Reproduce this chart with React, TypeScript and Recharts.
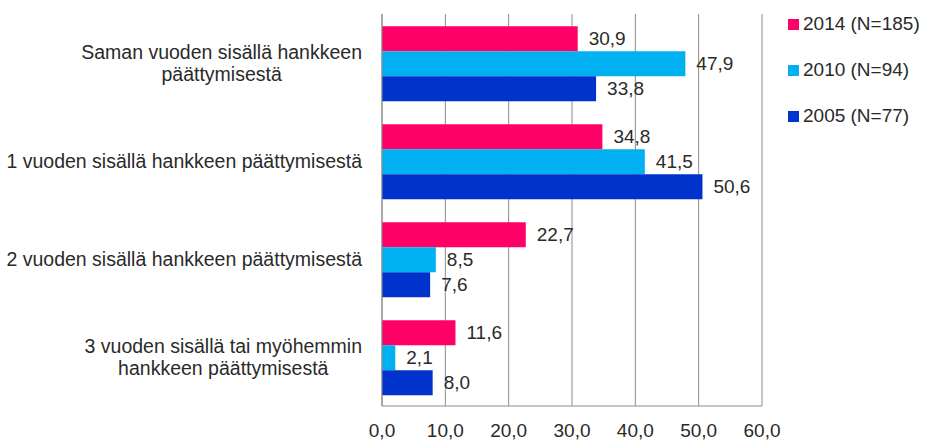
import React, { useLayoutEffect, useRef, useState } from "react";
import { BarChart, Bar, XAxis, YAxis, CartesianGrid, LabelList } from "recharts";

const categories = [
  "Saman vuoden sisällä hankkeen\npäättymisestä",
  "1 vuoden sisällä hankkeen päättymisestä",
  "2 vuoden sisällä hankkeen päättymisestä",
  "3 vuoden sisällä tai myöhemmin\nhankkeen päättymisestä",
];
const values2014 = [30.9, 34.8, 22.7, 11.6];
const values2010 = [47.9, 41.5, 8.5, 2.1];
const values2005 = [33.8, 50.6, 7.6, 8.0];
const xTicks = [0, 10, 20, 30, 40, 50, 60];

const series = [
  { key: "v2014", name: "2014 (N=185)", color: "#FF0066" },
  { key: "v2010", name: "2010 (N=94)", color: "#00B0F0" },
  { key: "v2005", name: "2005 (N=77)", color: "#0033CC" },
];

const data = categories.map((label, i) => ({
  label,
  v2014: values2014[i],
  v2010: values2010[i],
  v2005: values2005[i],
}));

const FONT = "'Liberation Sans', Arial, Helvetica, sans-serif";
const TEXT = "#2a2a2a";
const fmt = (v: any) => Number(v).toFixed(1).replace(".", ",");

function CategoryTick(props: any) {
  const { x, y, payload } = props;
  const lines = String(payload?.value ?? "").split("\n");
  const refs = useRef<any[]>([]);
  const [w, setW] = useState(0);
  useLayoutEffect(() => {
    let m = 0;
    refs.current.forEach((t) => {
      if (t) m = Math.max(m, t.getComputedTextLength());
    });
    if (Math.abs(m - w) > 0.5) setW(m);
  });
  const lh = 21.5;
  const startY = y - ((lines.length - 1) * lh) / 2;
  return (
    <g>
      {lines.map((l, i) => (
        <text
          key={i}
          ref={(el) => {
            refs.current[i] = el;
          }}
          x={x - w / 2}
          y={startY + i * lh}
          dy="0.355em"
          textAnchor="middle"
          fontFamily={FONT}
          fontSize={19.5}
          fill={TEXT}
        >
          {l}
        </text>
      ))}
    </g>
  );
}

function LegendBox() {
  return (
    <div
      style={{
        position: "absolute",
        left: 788,
        top: 13,
        fontFamily: FONT,
        fontSize: 19,
        color: TEXT,
      }}
    >
      {series.map((s) => (
        <div
          key={s.key}
          style={{ display: "flex", alignItems: "center", height: 22, marginBottom: 24, whiteSpace: "nowrap" }}
        >
          <span style={{ display: "inline-block", width: 11, height: 11, background: s.color, marginRight: 4 }} />
          <span>{s.name}</span>
        </div>
      ))}
    </div>
  );
}

export default function App() {
  return (
    <div style={{ position: "absolute", left: 0, top: 0, width: 925, height: 440, background: "#fff" }}>
      <BarChart
        width={925}
        height={440}
        data={data}
        layout="vertical"
        margin={{ top: 14, right: 163, bottom: 0, left: 0 }}
        barCategoryGap="12.5%"
        barGap={0}
      >
        <CartesianGrid horizontal={false} vertical={true} stroke="#8c8c8c" strokeWidth={1} />
        <XAxis
          type="number"
          domain={[0, 60]}
          ticks={xTicks}
          tickFormatter={fmt}
          axisLine={{ stroke: "#8c8c8c" }}
          tickLine={false}
          tickSize={0}
          tickMargin={18}
          height={34}
          interval={0}
          tick={{ fontFamily: FONT, fontSize: 19, fill: TEXT }}
        />
        <XAxis
          xAxisId="top"
          type="number"
          domain={[0, 60]}
          orientation="top"
          height={0}
          tick={false}
          tickLine={false}
          axisLine={{ stroke: "#8c8c8c" }}
        />
        <YAxis
          type="category"
          dataKey="label"
          width={382}
          axisLine={{ stroke: "#8c8c8c" }}
          tickLine={false}
          tickSize={0}
          tickMargin={20}
          interval={0}
          tick={<CategoryTick />}
        />
        <YAxis
          yAxisId="right"
          orientation="right"
          width={0}
          tick={false}
          tickLine={false}
          axisLine={{ stroke: "#333333" }}
        />
        {series.map((s) => (
          <Bar key={s.key} dataKey={s.key} name={s.name} fill={s.color} isAnimationActive={false}>
            <LabelList
              dataKey={s.key}
              position="right"
              offset={11}
              formatter={fmt}
              style={{ fontFamily: FONT, fontSize: 19, fill: TEXT }}
            />
          </Bar>
        ))}
      </BarChart>
      <LegendBox />
    </div>
  );
}
